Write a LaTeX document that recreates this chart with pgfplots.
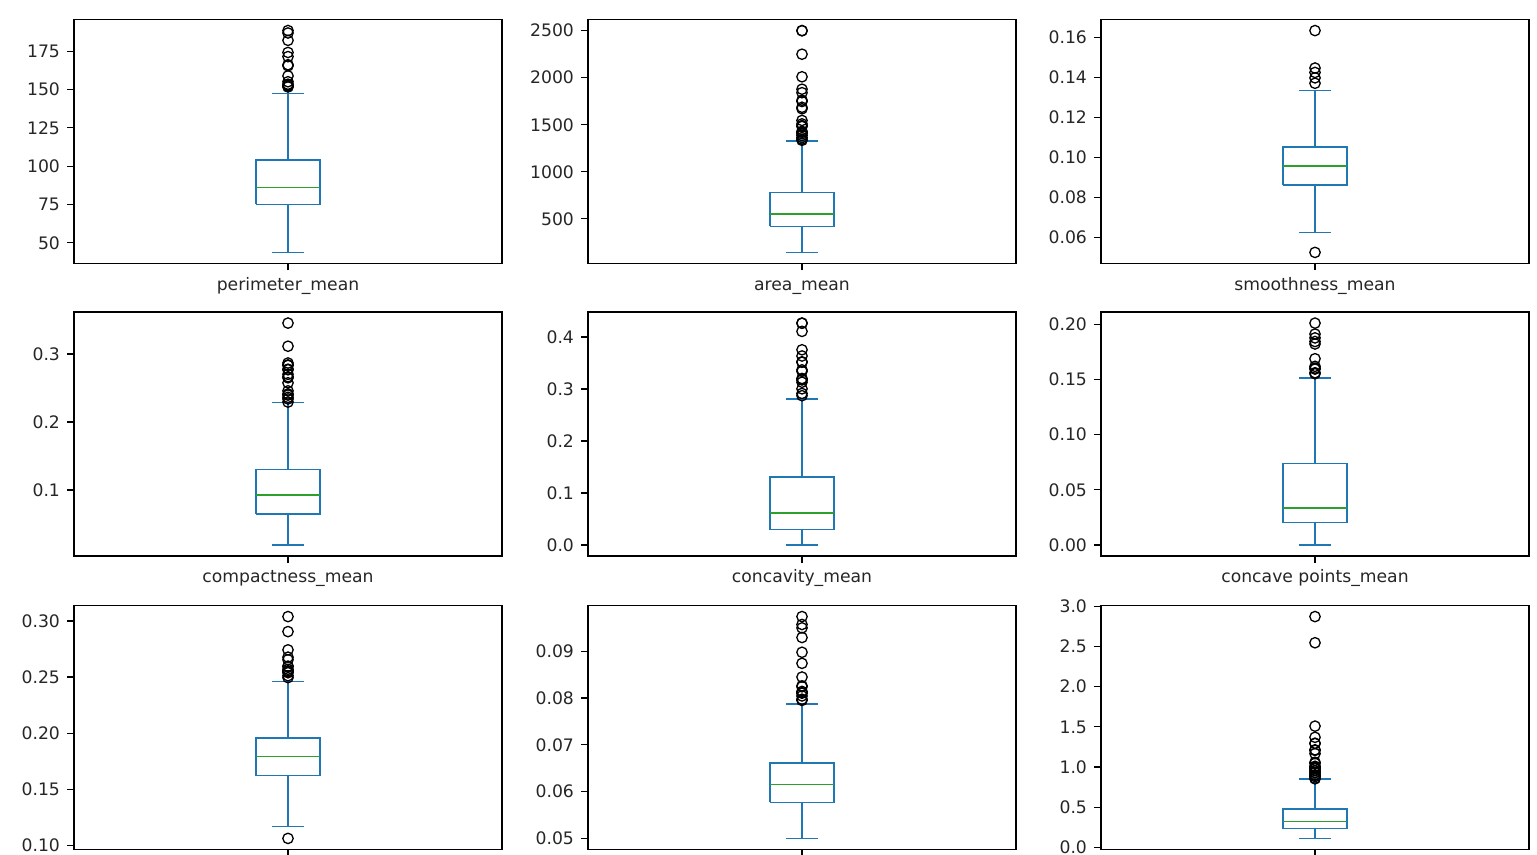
\documentclass[border=0pt]{standalone}
\usepackage{fontspec}
\setmainfont{DejaVu Sans}
\usepackage{pgfplots}
\pgfplotsset{compat=1.18}
\definecolor{C0}{RGB}{31,119,180}
\definecolor{C2}{RGB}{44,160,44}
\pgfplotsset{
  panel/.style={
    scale only axis, width=214pt, height=122pt,
    xmin=0.5, xmax=1.5, xtick={1},
    tick align=outside, tick pos=left, major tick length=3.5pt,
    axis line style={line width=0.6pt, black},
    every tick/.style={black, line width=0.6pt},
    scaled y ticks=false,
    /pgf/number format/assume math mode=true,
    /pgf/number format/1000 sep={},
    tick label style={font=\fontsize{8.6}{10}\selectfont, text=black!85},
    xticklabel style={text height=1.6ex, text depth=0.5ex, yshift=2.3pt},
    anchor=north west, clip=false,
  },
  p0/.style={yticklabel style={/pgf/number format/.cd,fixed,precision=0}},
  p1/.style={yticklabel style={/pgf/number format/.cd,fixed,fixed zerofill,precision=1}},
  p2/.style={yticklabel style={/pgf/number format/.cd,fixed,fixed zerofill,precision=2}},
  bx/.style={C0, line width=0.7pt, no marks},
  md/.style={C2, line width=0.7pt, no marks},
  ol/.style={only marks, mark=o, mark size=2.6pt, mark options={draw=black, line width=0.65pt, solid}},
}
% lower whisker, lower quartile, median, upper quartile, upper whisker
\newcommand{\bxp}[5]{%
  \addplot[bx] coordinates {(0.925,#2) (1.075,#2) (1.075,#4) (0.925,#4) (0.925,#2)};
  \addplot[bx] coordinates {(1,#2) (1,#1)};
  \addplot[bx] coordinates {(0.9625,#1) (1.0375,#1)};
  \addplot[bx] coordinates {(1,#4) (1,#5)};
  \addplot[bx] coordinates {(0.9625,#5) (1.0375,#5)};
  \addplot[md] coordinates {(0.925,#3) (1.075,#3)};
}
\begin{document}
\begin{tikzpicture}
% Row 1
\begin{axis}[panel, p0, at={(37pt,-9.75pt)}, ymin=36.55, ymax=195.7,
  ytick={50,75,100,125,150,175}, xticklabels={perimeter\_mean}]
\bxp{43.79}{75.17}{86.24}{104.1}{147.3}
\addplot[ol] coordinates {(1,151.7) (1,152.1) (1,152.8) (1,153.5) (1,155.1) (1,158.9) (1,165.5) (1,166.2) (1,171.5) (1,174.2) (1,182.1) (1,186.9) (1,188.5)};
\end{axis}
\begin{axis}[panel, p0, at={(294pt,-9.75pt)}, ymin=25.6, ymax=2618.9,
  ytick={500,1000,1500,2000,2500}, xticklabels={area\_mean}]
\bxp{143.5}{420.3}{551.1}{782.7}{1326}
\addplot[ol] coordinates {(1,1335) (1,1347) (1,1364) (1,1386) (1,1404) (1,1419) (1,1430) (1,1482) (1,1491) (1,1509) (1,1546) (1,1670) (1,1686) (1,1747) (1,1761) (1,1841) (1,1878) (1,2010) (1,2250) (1,2499) (1,2501)};
\end{axis}
\begin{axis}[panel, p2, at={(550.5pt,-9.75pt)}, ymin=0.04709, ymax=0.16894,
  ytick={0.06,0.08,0.10,0.12,0.14,0.16}, xticklabels={smoothness\_mean}]
\bxp{0.06251}{0.08637}{0.09587}{0.1053}{0.1335}
\addplot[ol] coordinates {(1,0.05263) (1,0.1371) (1,0.1398) (1,0.1425) (1,0.1447) (1,0.1634)};
\end{axis}
% Row 2
\begin{axis}[panel, p1, at={(37pt,-156pt)}, ymin=0.00308, ymax=0.3617,
  ytick={0.1,0.2,0.3}, xticklabels={compactness\_mean}]
\bxp{0.01938}{0.06492}{0.09263}{0.1304}{0.2284}
\addplot[ol] coordinates {(1,0.2293) (1,0.2339) (1,0.2363) (1,0.2396) (1,0.2413) (1,0.2458) (1,0.2576) (1,0.265) (1,0.2665) (1,0.2701) (1,0.2768) (1,0.2776) (1,0.2832) (1,0.2839) (1,0.2867) (1,0.3114) (1,0.3454)};
\end{axis}
\begin{axis}[panel, p1, at={(294pt,-156pt)}, ymin=-0.02134, ymax=0.4481,
  ytick={0,0.1,0.2,0.3,0.4}, xticklabels={concavity\_mean}]
\bxp{0}{0.02956}{0.06154}{0.1307}{0.281}
\addplot[ol] coordinates {(1,0.2871) (1,0.2914) (1,0.3003) (1,0.3130) (1,0.3174) (1,0.3189) (1,0.3201) (1,0.3339) (1,0.3368) (1,0.3514) (1,0.3523) (1,0.3635) (1,0.3754) (1,0.4108) (1,0.4264) (1,0.4268)};
\end{axis}
\begin{axis}[panel, p2, at={(550.5pt,-156pt)}, ymin=-0.01006, ymax=0.2113,
  ytick={0,0.05,0.10,0.15,0.20}, xticklabels={concave points\_mean}]
\bxp{0}{0.02031}{0.0335}{0.074}{0.1514}
\addplot[ol] coordinates {(1,0.1553) (1,0.1562) (1,0.1595) (1,0.1604) (1,0.1620) (1,0.1689) (1,0.1823) (1,0.1845) (1,0.1878) (1,0.1913) (1,0.2012)};
\end{axis}
% Row 3 (its x labels fall below the visible area, as in the reference)
\begin{axis}[panel, p2, at={(37pt,-302.75pt)}, ymin=0.0961, ymax=0.3139,
  ytick={0.10,0.15,0.20,0.25,0.30}, xticklabels={}]
\bxp{0.1167}{0.1619}{0.1792}{0.1957}{0.2459}
\addplot[ol] coordinates {(1,0.106) (1,0.2495) (1,0.2512) (1,0.2539) (1,0.2548) (1,0.2556) (1,0.2569) (1,0.2595) (1,0.2597) (1,0.2655) (1,0.2678) (1,0.2743) (1,0.2906) (1,0.304)};
\end{axis}
\begin{axis}[panel, p2, at={(294pt,-302.75pt)}, ymin=0.04759, ymax=0.09981,
  ytick={0.05,0.06,0.07,0.08,0.09}, xticklabels={}]
\bxp{0.04996}{0.0577}{0.06154}{0.06612}{0.07871}
\addplot[ol] coordinates {(1,0.07950) (1,0.07976) (1,0.08046) (1,0.08104) (1,0.08116) (1,0.08142) (1,0.08243) (1,0.08261) (1,0.08450) (1,0.08743) (1,0.08980) (1,0.09296) (1,0.09502) (1,0.09575) (1,0.09744)};
\end{axis}
\begin{axis}[panel, p1, at={(550.5pt,-302.75pt)}, ymin=-0.027, ymax=3.011,
  ytick={0,0.5,1.0,1.5,2.0,2.5,3.0}, xticklabels={}]
\bxp{0.1115}{0.2324}{0.3242}{0.4789}{0.8484}
\addplot[ol] coordinates {(1,0.8529) (1,0.8601) (1,0.8811) (1,0.8973) (1,0.9029) (1,0.9289) (1,0.9317) (1,0.9553) (1,0.9555) (1,0.9806) (1,0.9811) (1,0.9948) (1,1.0) (1,1.009) (1,1.046) (1,1.058) (1,1.167) (1,1.207) (1,1.214) (1,1.292) (1,1.296) (1,1.37) (1,1.509) (1,2.547) (1,2.873)};
\end{axis}
\pgfresetboundingbox
\path[use as bounding box] (0,0) rectangle (768.5pt,-427.5pt);
\end{tikzpicture}
\end{document}
